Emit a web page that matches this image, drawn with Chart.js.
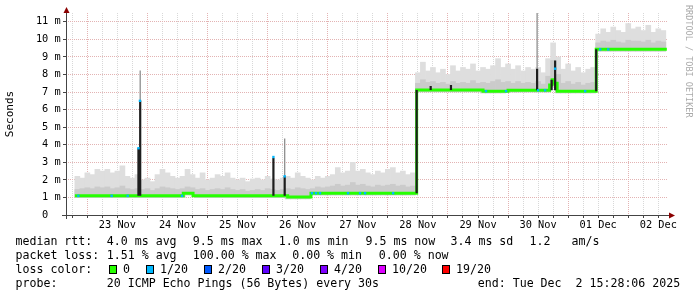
<!DOCTYPE html>
<html>
<head>
<meta charset="utf-8">
<script src="https://cdn.jsdelivr.net/npm/chart.js@4.4.0/dist/chart.umd.min.js"></script>
<style>
  html, body { margin: 0; padding: 0; background: #fff; }
  canvas { display: block; }
</style>
</head>
<body>
<canvas id="smokeChart" width="697" height="297"></canvas>
<script>
// time axis is in hours since 23 Nov 00:00
const axisStart = -8.53;
const axisEnd = 231.47;

const dayLabels = ['23 Nov', '24 Nov', '25 Nov', '26 Nov', '27 Nov', '28 Nov', '29 Nov', '30 Nov', '01 Dec', '02 Dec'];
const yLabels = ['0  ', '1 m', '2 m', '3 m', '4 m', '5 m', '6 m', '7 m', '8 m', '9 m', '10 m', '11 m'];

// smoke (spread of the 20 pings), one bin every 2 hours
const smokeHours = [-4,-2,0,2,4,6,8,10,12,14,16,18,20,22,24,26,28,30,32,34,36,38,40,42,44,46,48,50,52,54,56,58,60,62,64,66,68,70,72,74,76,78,80,82,84,86,88,90,92,94,96,98,100,102,104,106,108,110,112,114,116,118,120,122,124,126,128,130,
  132,134,136,138,140,142,144,146,148,150,152,154,156,158,160,162,164,166,168,170,172,174,176,178,180,182,184,186,188,190,192,194,196,198,200,202,
  204,206,208,210,212,214,216,218,220,222,224,226,228,230];
const smokeTop = [2.2,2.1,2.4,2.3,2.6,2.5,2.6,2.4,2.5,2.8,2.2,2.1,2.3,2.0,2.1,1.9,2.3,2.6,2.4,2.2,2.1,2.2,2.6,2.3,2.1,2.4,2.0,2.1,2.3,2.2,2.4,2.1,2.0,2.1,1.9,2.05,2.1,2.0,2.2,2.05,2.0,2.1,2.2,2.1,2.4,2.2,2.1,2.0,2.2,2.1,2.2,2.3,2.7,2.4,2.5,3.0,2.5,2.6,2.4,2.3,2.5,2.4,2.6,2.7,2.4,2.5,2.3,2.4,
  8.1,8.7,8.2,8.4,8.1,8.3,8.0,8.5,8.2,8.4,8.3,8.6,8.2,8.4,8.3,8.5,8.9,8.4,8.6,8.3,8.5,8.2,8.4,8.3,8.4,8.1,8.9,9.8,9.0,8.3,8.6,8.2,8.4,8.1,8.3,8.4,
  10.3,10.6,10.4,10.7,10.5,10.4,10.9,10.6,10.7,10.5,10.8,10.4,10.6,10.5];
const smokeMid = [1.45,1.5,1.55,1.5,1.6,1.55,1.6,1.5,1.55,1.65,1.5,1.45,1.5,1.45,1.5,1.4,1.5,1.6,1.55,1.5,1.45,1.5,1.6,1.55,1.45,1.5,1.4,1.45,1.5,1.45,1.55,1.45,1.4,1.45,1.35,1.4,1.45,1.4,1.5,1.45,1.4,1.45,1.5,1.45,1.55,1.5,1.45,1.5,1.6,1.55,1.6,1.65,1.75,1.65,1.7,1.85,1.7,1.75,1.65,1.6,1.7,1.65,1.7,1.75,1.65,1.7,1.6,1.65,
  7.5,7.7,7.55,7.6,7.5,7.55,7.45,7.6,7.5,7.55,7.5,7.65,7.5,7.55,7.5,7.6,7.7,7.55,7.6,7.5,7.6,7.5,7.55,7.5,7.6,7.45,7.9,8.8,8.0,7.5,7.6,7.45,7.55,7.4,7.5,7.55,
  9.8,9.9,9.85,9.95,9.85,9.8,9.95,9.9,9.9,9.85,9.95,9.8,9.9,9.85];

// median rtt (ms), value holds until the next change
const medianHours = [-5, 38.3, 42.2, 80, 89.3, 131.5, 158, 168, 184.6, 185.6, 186.6, 187.6, 203.2, 231.4];
const medianValues = [1.09, 1.24, 1.09, 1.02, 1.24, 7.11, 7.05, 7.1, 7.4, 7.7, 7.5, 7.05, 9.43, 9.43];

// samples with 1/20 loss
const loss1Hours = [-3.6, 9.7, 16.1, 20.4, 21.0, 37.8, 74.3, 78.8, 89.7, 91.3, 92.9, 104.1, 108.9, 110.9, 122.1, 159.2, 167.2, 180, 182.8, 186.8, 198.8, 204.8, 208];
const loss1Values = [1.09, 1.09, 1.09, 3.8, 6.5, 1.09, 3.3, 2.2, 1.24, 1.24, 1.24, 1.24, 1.24, 1.24, 1.24, 7.05, 7.05, 7.1, 7.1, 8.33, 7.05, 9.43, 9.43];

// dense smoke columns (spikes and level changes)
const spikeHours = [20.4, 21.1, 74.3, 78.8, 131.5, 137.1, 145.2, 179.6, 185.4, 186.8, 203.2];
const spikeLow = [1.09, 1.09, 1.09, 1.09, 1.24, 7.11, 7.11, 7.1, 7.1, 7.1, 7.05];
const spikeHigh = [3.8, 6.52, 3.25, 2.2, 7.11, 7.35, 7.4, 8.33, 7.7, 8.8, 9.43];

// single outlier pings above the spikes
const outlierHours = [21.1, 78.8, 179.6];
const outlierLow = [6.52, 2.2, 8.33];
const outlierHigh = [8.23, 4.35, 11.5];

const lossLabels = ['0', '1/20', '2/20', '3/20', '4/20', '10/20', '19/20'];
const lossColors = ['#26ff00', '#00b8ff', '#0059ff', '#5e00ff', '#7e00ff', '#dd00ff', '#ff0000'];

function medianAt(h) {
    let v = medianValues[0];
    for (let i = 0; i < medianHours.length; i++) {
        if (medianHours[i] <= h) v = medianValues[i];
    }
    return v;
}

function verticalSegments(hours, lows, highs) {
    const pts = [];
    hours.forEach((h, i) => {
        pts.push({ x: h, y: lows[i] }, { x: h, y: highs[i] }, { x: h, y: null });
    });
    return pts;
}

const mono = 'DejaVu Sans Mono';
const gridMinor = '#d8d8d8';
const gridMajor = '#e3b3b3';

// legend, arrows and the extra rrdtool decorations
const rrdDecor = {
    id: 'rrdDecor',
    afterDraw(chart) {
        const ctx = chart.ctx;
        const area = chart.chartArea;
        ctx.save();

        // axes
        ctx.strokeStyle = '#444';
        ctx.lineWidth = 1;
        ctx.beginPath();
        ctx.moveTo(area.left + 0.5, area.top - 1);
        ctx.lineTo(area.left + 0.5, area.bottom + 4);
        ctx.moveTo(area.left - 4, area.bottom + 0.5);
        ctx.lineTo(area.right + 3, area.bottom + 0.5);
        ctx.stroke();

        // arrows
        ctx.fillStyle = '#8b0000';
        ctx.beginPath();
        ctx.moveTo(area.left - 2.5, area.top);
        ctx.lineTo(area.left + 3.5, area.top);
        ctx.lineTo(area.left + 0.5, area.top - 6);
        ctx.closePath();
        ctx.fill();
        ctx.beginPath();
        ctx.moveTo(area.right + 2, area.bottom - 2.5);
        ctx.lineTo(area.right + 2, area.bottom + 3.5);
        ctx.lineTo(area.right + 8, area.bottom + 0.5);
        ctx.closePath();
        ctx.fill();

        // watermark
        ctx.save();
        ctx.translate(688, 5);
        ctx.rotate(Math.PI / 2);
        ctx.font = '8.5px "' + mono + '"';
        ctx.fillStyle = '#aaaaaa';
        ctx.textBaseline = 'middle';
        ctx.textAlign = 'left';
        ctx.fillText('RRDTOOL / TOBI OETIKER', 0, 0);
        ctx.restore();

        // legend text
        ctx.font = '11.6px "' + mono + '"';
        ctx.fillStyle = '#000';
        ctx.textAlign = 'left';
        ctx.textBaseline = 'alphabetic';
        const rows = [
            [245, [[16, 'median rtt:'], [107.3, '4.0 ms avg'], [193.3, '9.5 ms max'], [279.3, '1.0 ms min'], [366, '9.5 ms now'], [451, '3.4 ms sd'], [530, '1.2'], [572, 'am/s']]],
            [259, [[16, 'packet loss:'], [107.3, '1.51 % avg'], [193.3, '100.00 % max'], [292.7, '0.00 % min'], [379.3, '0.00 % now']]],
            [273, [[16, 'loss color:']]],
            [287, [[16, 'probe:'], [107.3, '20 ICMP Echo Pings (56 Bytes) every 30s'], [478.3, 'end: Tue Dec  2 15:28:06 2025']]]
        ];
        rows.forEach(([y, items]) => {
            items.forEach(([x, t]) => ctx.fillText(t, x - 0.5, y));
        });

        const boxX = [108.5, 146, 204, 262.3, 320, 377.7, 442.3];
        lossLabels.forEach((lab, i) => {
            const bx = Math.round(boxX[i]);
            ctx.fillStyle = lossColors[i];
            ctx.fillRect(bx, 265, 8, 9);
            ctx.strokeStyle = '#000';
            ctx.strokeRect(bx + 0.5, 265.5, 7, 8);
            ctx.fillStyle = '#000';
            ctx.fillText(lab, bx + 14, 273);
        });
        ctx.restore();
    }
};

const ctx = document.getElementById('smokeChart').getContext('2d');

new Chart(ctx, {
    type: 'bar',
    data: {
        datasets: [
            {
                type: 'line',
                label: 'loss 1/20',
                data: loss1Hours.map((h, i) => ({ x: h, y: loss1Values[i] })),
                showLine: false,
                pointStyle: 'rect',
                pointRadius: 1.7,
                pointBackgroundColor: lossColors[1],
                pointBorderWidth: 0
            },
            {
                type: 'line',
                label: 'dense smoke',
                data: verticalSegments(spikeHours, spikeLow, spikeHigh),
                borderColor: '#1e1e1e',
                borderWidth: 2.2,
                pointRadius: 0,
                spanGaps: false
            },
            {
                type: 'line',
                label: 'median rtt',
                data: medianHours.map((h, i) => ({ x: h, y: medianValues[i] })),
                stepped: true,
                borderColor: lossColors[0],
                borderWidth: 3,
                pointRadius: 0
            },
            {
                type: 'line',
                label: 'outliers',
                data: verticalSegments(outlierHours, outlierLow, outlierHigh),
                borderColor: '#8e8e8e',
                borderWidth: 1.3,
                pointRadius: 0,
                spanGaps: false
            },
            {
                label: 'smoke mid',
                data: smokeHours.map((h, i) => ({ x: h, y: [medianAt(h) - 0.1, smokeMid[i]] })),
                backgroundColor: '#cbcbcb',
                borderWidth: 0,
                grouped: false,
                barPercentage: 1,
                categoryPercentage: 1
            },
            {
                label: 'smoke',
                data: smokeHours.map((h, i) => ({ x: h, y: [medianAt(h) - 0.1, smokeTop[i]] })),
                backgroundColor: '#dedede',
                borderWidth: 0,
                grouped: false,
                barPercentage: 1,
                categoryPercentage: 1
            }
        ]
    },
    options: {
        responsive: false,
        animation: false,
        devicePixelRatio: 1,
        layout: { padding: { top: 13, right: 30, bottom: 0, left: 0 } },
        plugins: {
            legend: { display: false },
            tooltip: { enabled: false }
        },
        scales: {
            x: {
                type: 'linear',
                min: axisStart,
                max: axisEnd,
                offset: false,
                afterBuildTicks: scale => {
                    const ticks = [];
                    for (let h = -6; h <= axisEnd; h += 6) ticks.push({ value: h });
                    scale.ticks = ticks;
                },
                afterFit: scale => { scale.height = 82; },
                ticks: {
                    autoSkip: false,
                    maxRotation: 0,
                    padding: 1,
                    color: '#000',
                    font: { family: mono, size: 10.3 },
                    callback: v => {
                        const d = (v - 12) / 24;
                        return Number.isInteger(d) ? dayLabels[d] : '';
                    }
                },
                grid: {
                    offset: false,
                    color: c => (c.tick && c.tick.value % 24 === 0) ? gridMajor : gridMinor,
                    lineWidth: 1,
                    tickLength: 3,
                    tickColor: '#444'
                },
                border: { display: false, dash: [1, 1] }
            },
            y: {
                type: 'linear',
                min: 0,
                max: 11.5,
                afterBuildTicks: scale => {
                    const ticks = [];
                    for (let v = 0; v <= 11; v += 0.5) ticks.push({ value: v });
                    scale.ticks = ticks;
                },
                afterFit: scale => { scale.width = 66; },
                ticks: {
                    padding: 2.3,
                    color: '#000',
                    font: { family: mono, size: 10.3 },
                    callback: v => Number.isInteger(v) ? yLabels[v] : ''
                },
                title: {
                    display: true,
                    text: 'Seconds',
                    color: '#000',
                    font: { family: mono, size: 11 },
                    padding: { top: 4, bottom: 0 }
                },
                grid: {
                    color: c => (c.tick && Number.isInteger(c.tick.value)) ? gridMajor : gridMinor,
                    lineWidth: 1,
                    tickLength: 3,
                    tickColor: '#444'
                },
                border: { display: false, dash: [1, 1] }
            }
        }
    },
    plugins: [rrdDecor]
});
</script>
</body>
</html>
